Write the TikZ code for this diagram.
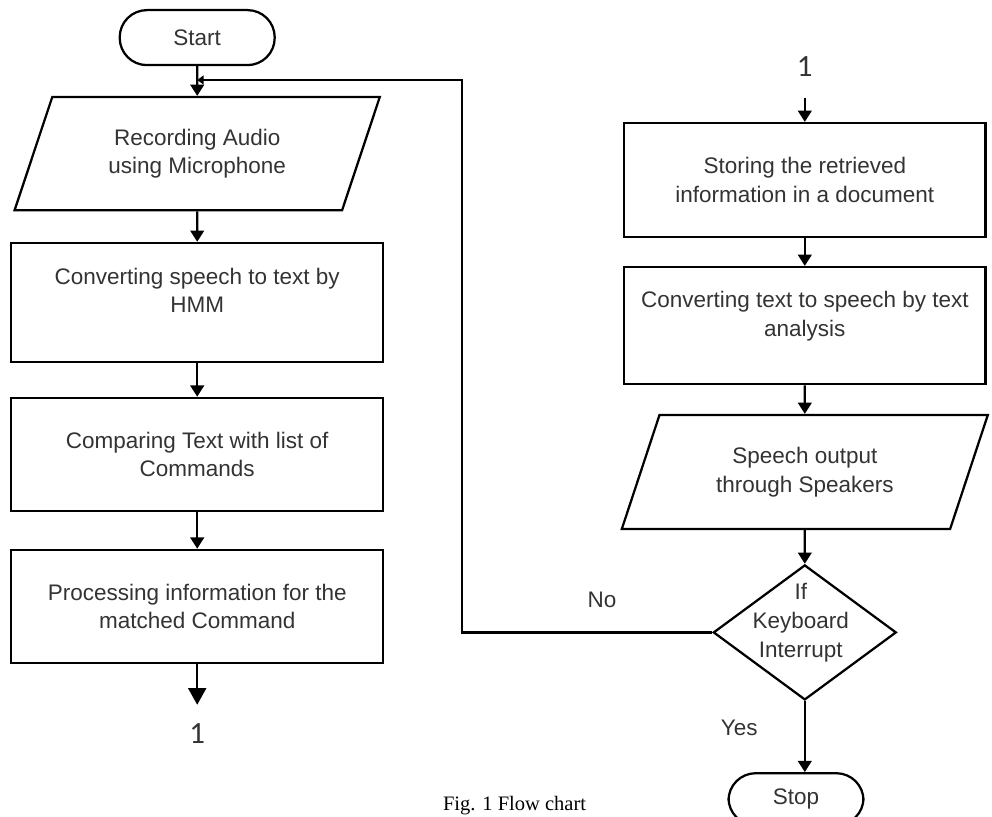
\documentclass[tikz,border=0pt]{standalone}
\usepackage{fontspec}
\setmainfont{Liberation Sans}
\newfontfamily\numfont{Carlito}
\newfontfamily\capfont{Liberation Serif}
\usetikzlibrary{arrows.meta}
\usetikzlibrary{shapes.geometric}
\usetikzlibrary{calc}
\usetikzlibrary{positioning}

\begin{document}
\begin{tikzpicture}[line width=1.6pt]
  \pgfmathsetmacro{\XL}{4.93}
  \pgfmathsetmacro{\XR}{20.12}
\tikzset{
  term/.style={draw, rectangle, rounded corners=6.8mm, align=center, minimum width=3.875cm, minimum height=1.375cm},
  proc/.style={draw, rectangle, align=center, minimum width=9.3cm, minimum height=2.83cm},
  io/.style={draw, trapezium, trapezium left angle=57.5, trapezium right angle=122.5, trapezium stretches body, align=center, minimum width=9.13cm, minimum height=2.83cm},
  decide/.style={draw, diamond, minimum width=4.575cm, minimum height=3.375cm, inner sep=0pt},
  uptext/.style={text depth=0.6cm},
  conn/.style={font=\numfont\fontsize{22}{24}\selectfont},
  coord/.style={coordinate},
}
%
\tikzset{>={Triangle[length=2.8mm, width=3.4mm]},
  every node/.style={text=black!80, font=\fontsize{16}{20.5}\selectfont}}

  \useasboundingbox (0,0) rectangle (24.8,-20.4);

       % left column
       \node [term] (start) at (\XL, -0.94) {Start};
       \node [io] (rec) at (\XL, -3.84) {Recording Audio\\using Microphone};
       \node [proc, minimum height=2.975cm, uptext] (hmm) at (\XL, -7.56)
       {Converting speech to text by\\HMM};
       \node [proc] (cmp) at (\XL, -11.36) {Comparing Text with list of\\Commands};
       \node [proc] (match) at (\XL, -15.16)
       {Processing information for the\\matched Command};
       \node [coord] (endl) at (\XL, -17.62) {};
       \node [conn] (one1) at (\XL, -18.33) {1};

       % right column
       \node [conn] (one2) at (\XR, -1.67) {1};
       \node [coord] (inr) at (\XR, -2.45) {};
       \node [proc, minimum width=9.03cm, minimum height=2.85cm] (store) at (\XR, -4.5)
       {Storing the retrieved\\information in a document};
       \node [proc, minimum width=9.03cm, minimum height=2.93cm, uptext] (tts) at (\XR, -8.14)
       {Converting text to speech by text\\analysis};
       \node [io, minimum width=9.15cm, minimum height=2.85cm] (out) at (\XR, -11.8)
       {Speech output\\through Speakers};
       \node [decide] (kbd) at (\XR, -15.81) {};
       \node [align=center] (kbdtxt) at ($(kbd.center) + (-0.1, 0.25)$)
       {If\\Keyboard\\Interrupt};
       \node [term, minimum width=3.375cm, minimum height=1.3cm] (stop) at (19.9, -19.98) {Stop};

       \node [coord] (turn) at (11.55, -2) {};
       \node [coord] (join) at (\XL, -2) {};

       \node (no) at (15.05, -15.0) {No};
       \node (yes) at (18.48, -18.2) {Yes};
       \node [anchor=base west, font=\capfont\fontsize{14.6}{16}\selectfont, text=black]
       (cap) at (10.93, -20.27) {Fig. 1 Flow chart};

       \draw[->] (start) -- (rec);
       \draw[->] (rec) -- (hmm);
       \draw[->] (hmm) -- (cmp);
       \draw[->] (cmp) -- (match);
       \draw[-{Triangle[length=4.2mm, width=4.5mm]}] (match) -- (endl);

       \draw[->] (inr) -- (store);
       \draw[->] (store) -- (tts);
       \draw[->] (tts) -- (out);
       \draw[->] (out) -- (kbd);
       \draw[->] (kbd.south) -- (kbd.south |- stop.north);
       \draw[-{Triangle[length=1.6mm, width=2.2mm]}] (kbd.west) -| (turn) -- (join);

\end{tikzpicture}
\end{document}
